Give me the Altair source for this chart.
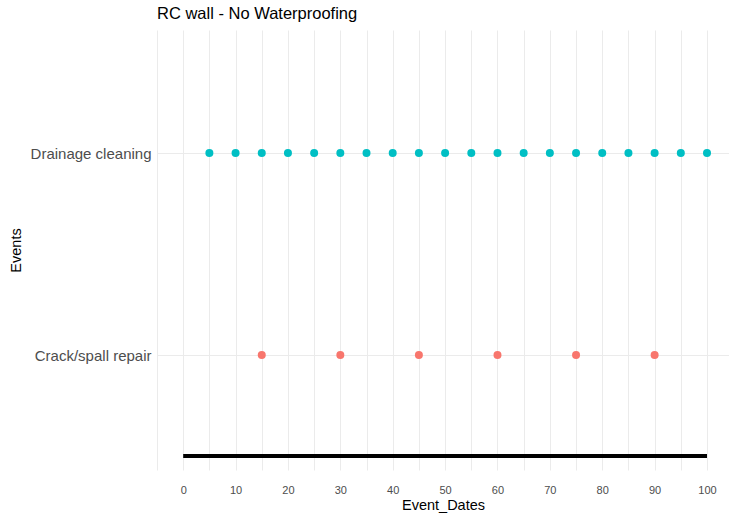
import altair as alt
import pandas as pd

drain_dates = [5, 10, 15, 20, 25, 30, 35, 40, 45, 50, 55, 60, 65, 70, 75, 80, 85, 90, 95, 100]
crack_dates = [15, 30, 45, 60, 75, 90]
categories = ["Crack/spall repair", "Drainage cleaning"]
cat_pos = [1, 2]
colors = ["#F8766D", "#00BFC4"]
line_start, line_end, line_level = 0, 100, 0.5
x_ticks = [-5, 0, 5, 10, 15, 20, 25, 30, 35, 40, 45, 50, 55, 60, 65, 70, 75, 80, 85, 90, 95, 100]

rows = [{"Event_Dates": d, "Events": categories[1], "pos": cat_pos[1]} for d in drain_dates]
rows += [{"Event_Dates": d, "Events": categories[0], "pos": cat_pos[0]} for d in crack_dates]
df = pd.DataFrame(rows)
line_df = pd.DataFrame({"x": [line_start], "x2": [line_end], "y": [line_level]})

xscale = alt.Scale(domain=[-5, 104.2], nice=False, zero=False)
yscale = alt.Scale(domain=[0.431, 2.609], nice=False, zero=False)

label_expr = "datum.value == 1 ? 'Crack/spall repair' : (datum.value == 2 ? 'Drainage cleaning' : '')"
x_axis = alt.Axis(values=x_ticks, labelOverlap=False,
                  labelExpr="datum.value >= 0 && datum.value % 10 == 0 ? '' + datum.value : ''")
y_axis = alt.Axis(values=cat_pos, labelExpr=label_expr, labelOverlap=False)

points = alt.Chart(df).mark_circle(size=64, opacity=1).encode(
    x=alt.X("Event_Dates:Q", scale=xscale, title="Event_Dates", axis=x_axis),
    y=alt.Y("pos:Q", scale=yscale, title="Events", axis=y_axis),
    color=alt.Color("Events:N", scale=alt.Scale(domain=categories, range=colors), legend=None),
)

line = alt.Chart(line_df).mark_rule(color="black", strokeWidth=4).encode(
    x=alt.X("x:Q", scale=xscale, title="Event_Dates", axis=x_axis),
    x2="x2:Q",
    y=alt.Y("y:Q", scale=yscale, title="Events", axis=y_axis),
)

chart = (line + points).properties(
    width=572, height=440,
    title=alt.TitleParams("RC wall - No Waterproofing", anchor="start", fontSize=16.5, frame="group",
                          font="Liberation Sans", fontWeight="normal", color="#000000", offset=8),
    autosize=alt.AutoSizeParams(type="none"),
    padding={"left": 157, "top": 30, "right": 0, "bottom": 45},
).configure_view(stroke=None).configure_axis(
    domain=False, ticks=False, grid=True, gridColor="#EBEBEB", gridWidth=1,
    labelFont="Liberation Sans", titleFont="Liberation Sans", titleFontWeight="normal",
    titleColor="#000000", titleFontSize=14.5,
).configure_axisX(
    labelFontSize=11, labelColor="#4D4D4D", labelPadding=14, titlePadding=3,
).configure_axisY(
    labelFontSize=15, labelColor="#4D4D4D", labelPadding=6, titlePadding=7,
)

chart.save("out.html", embed_options={"renderer": "svg", "actions": False})
